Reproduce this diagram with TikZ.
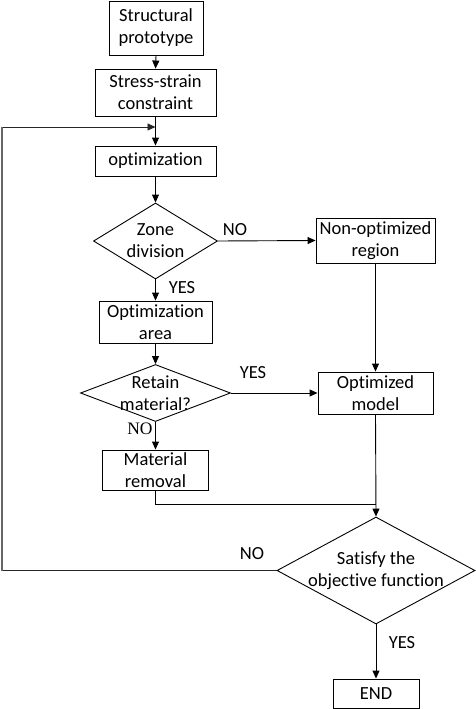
\documentclass[tikz,border=0pt]{standalone}
\usepackage{fontspec}
\setmainfont{Carlito}[Ligatures=NoCommon]
\newfontfamily\serifno{Liberation Serif}
\usetikzlibrary{shapes.geometric,arrows.meta}
\begin{document}
\begin{tikzpicture}[x=1pt,y=-1pt,
  every node/.style={font=\fontsize{18.5}{22}\selectfont, align=center, inner sep=0pt},
  box/.style={draw, line width=0.9pt, rectangle},
  dia/.style={draw, line width=0.9pt, diamond},
  lbl/.style={font=\fontsize{18.5}{22}\selectfont},
  conn/.style={line width=0.9pt, -{Triangle[length=8pt,width=7pt]}},
  plain/.style={line width=0.9pt}
]
\useasboundingbox (0,0) rectangle (476,709);
% boxes
\node[box, minimum width=94pt, minimum height=54pt] (sp) at (156,28) {Structural\\prototype};
\node[box, minimum width=121pt, minimum height=47pt] (ssc) at (155.5,92.5) {Stress-strain\\constraint};
\node[box, minimum width=121pt, minimum height=30pt] (opt) at (155.5,161) {optimization};
\node[dia, minimum width=124pt, minimum height=76pt, label={[lbl,align=center]center:Zone\\division}] (zone) at (155.5,241) {};
\node[box, minimum width=119pt, minimum height=45pt] (nonopt) at (375.5,240.5) {Non-optimized\\region};
\node[box, minimum width=113pt, minimum height=42pt] (oa) at (155.5,322) {Optimization\\area};
\node[dia, minimum width=150pt, minimum height=57pt, label={[lbl,align=center]center:Retain\\material?}] (ret) at (155.5,393) {};
\node[box, minimum width=115pt, minimum height=42pt] (om) at (375.5,393) {Optimized\\model};
\node[box, minimum width=106pt, minimum height=40pt] (mr) at (155.5,470) {Material\\removal};
\node[dia, minimum width=198pt, minimum height=107pt, label={[lbl,align=center]center:Satisfy the\\objective function}] (sat) at (376,570.5) {};
\node[box, minimum width=86pt, minimum height=29pt] (end) at (376,693.5) {END};
% coordinates
\coordinate (join) at (155.5,127);
\coordinate (fbtop) at (2,127);
\coordinate (fbbot) at (2,570.5);
\coordinate (mrturn) at (155.5,504);
\coordinate (mrjoin) at (376,504);
% connectors
\draw[conn] (sp.south) -- (ssc.north);
\draw[conn] (ssc.south) -- (opt.north);
\draw[conn] (opt.south) -- (zone.north);
\draw[conn] (zone.east) -- (nonopt.west);
\draw[conn] (zone.south) -- (oa.north);
\draw[conn] (nonopt.south) -- (om.north);
\draw[conn] (oa.south) -- (ret.north);
\draw[conn] (ret.east) -- (om.west);
\draw[conn] (ret.south) -- (mr.north);
\draw[plain] (mr.south) -- (mrturn) -- (mrjoin);
\draw[conn] (om.south) -- (sat.north);
\draw[conn] (sat.south) -- (end.north);
\draw[conn, black!85] (sat.west) -- (fbbot) -- (fbtop) -- (join);
\draw[line width=1.8pt, black!60] (fbbot) -- (fbtop);
% labels
\node[lbl] (noA) at (235,230) {NO};
\node[lbl] (yesA) at (182,288) {YES};
\node[lbl] (yesB) at (253,373) {YES};
\node[font=\serifno\fontsize{17.5}{20}\selectfont] (noB) at (140,429) {NO};
\node[lbl] (noC) at (252,554) {NO};
\node[lbl] (yesC) at (402,643) {YES};
\end{tikzpicture}
\end{document}
